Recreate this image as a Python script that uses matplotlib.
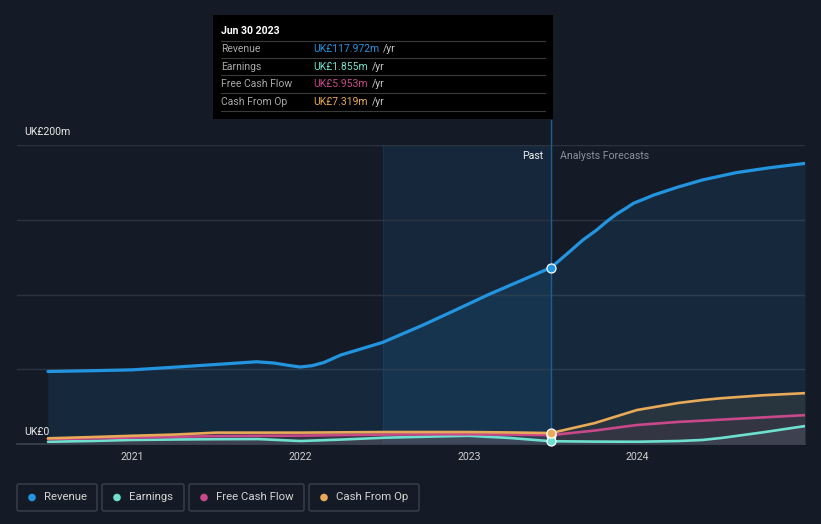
import matplotlib.pyplot as plt
from matplotlib.patches import Rectangle, FancyBboxPatch, Circle

plt.rcParams["font.family"] = ["Roboto", "DejaVu Sans"]

# data (UK£ m, decimal years)
rev_x = [2020.50, 2020.75, 2021.00, 2021.24, 2021.54, 2021.74, 2021.84, 2021.93, 2022.00,
         2022.07, 2022.14, 2022.24, 2022.49, 2022.73, 2022.93, 2023.12, 2023.32, 2023.49,
         2023.60, 2023.68, 2023.76, 2023.82, 2023.88, 2023.94, 2023.98, 2024.04, 2024.10,
         2024.24, 2024.39, 2024.59, 2024.79, 2025.00]
rev_y = [48.5, 49.0, 49.6, 51.3, 53.5, 55.0, 54.2, 52.6, 51.5,
         52.4, 54.5, 59.5, 68.0, 79.6, 90.0, 100.0, 109.7, 117.972,
         128.6, 136.5, 143.0, 148.7, 153.8, 158.0, 161.0, 163.7, 166.5,
         171.7, 176.6, 181.5, 184.8, 187.7]

q_x = [2020.50, 2020.75, 2021.00, 2021.25, 2021.50, 2021.75, 2022.00, 2022.25, 2022.50,
       2022.75, 2023.00, 2023.25, 2023.49, 2023.75, 2024.00, 2024.25, 2024.39, 2024.50,
       2024.75, 2025.00]
earn_y = [1.5, 2.0, 2.7, 3.0, 3.2, 3.3, 2.0, 3.0, 4.2,
          4.9, 5.5, 4.0, 1.855, 1.6, 1.5, 2.0, 2.7, 4.0,
          7.8, 12.0]
fcf_y = [3.3, 3.8, 4.3, 4.8, 5.3, 5.5, 5.6, 6.0, 6.3,
         6.5, 6.5, 6.3, 5.953, 9.0, 12.7, 14.8, 15.6, 16.3,
         17.8, 19.3]
cfo_y = [3.8, 4.6, 5.5, 6.3, 7.6, 7.6, 7.6, 7.8, 8.0,
         8.0, 8.0, 7.7, 7.319, 14.0, 22.7, 27.5, 29.4, 30.6,
         32.6, 34.0]

years = [2021, 2022, 2023, 2024]
now = 2023.49
band_start = 2022.49

series = [
    ("Revenue", "#2394df", "UK£117.972m"),
    ("Earnings", "#6ee0cf", "UK£1.855m"),
    ("Free Cash Flow", "#c8488a", "UK£5.953m"),
    ("Cash From Op", "#e8aa58", "UK£7.319m"),
]

bg = "#151b26"
W, H = 821, 524
fig = plt.figure(figsize=(W / 100, H / 100), dpi=100)
fig.patch.set_facecolor(bg)

# main axes: x pixel 17..805, y pixel 145..444
ax = fig.add_axes([17 / W, (H - 444) / H, (805 - 17) / W, (444 - 145) / H])
ax.set_facecolor(bg)
ax.set_xlim(2020.316, 2025.0)
ax.set_ylim(0, 200)
for s in ax.spines.values():
    s.set_visible(False)
ax.set_xticks([])
ax.set_yticks([])

for g in [50, 100, 150, 200]:
    ax.axhline(g, color="#2b3340", lw=1, zorder=1)
ax.axhline(0, color="#3c4451", lw=1.2, zorder=6, clip_on=False)

# highlight band for last year of past
ax.axvspan(band_start, now, color="#1c6cb5", alpha=0.15, lw=0, zorder=0)
ax.axvline(band_start, color="#1f4a6e", lw=0.7, alpha=0.35, zorder=1)

# fills
ax.fill_between(rev_x, rev_y, 0, color="#2394df", alpha=0.12, lw=0, zorder=2)
ax.fill_between(q_x, cfo_y, 0, color="#e8aa58", alpha=0.09, lw=0, zorder=2)
ax.fill_between(q_x, fcf_y, 0, color="#c8488a", alpha=0.08, lw=0, zorder=2)
ax.fill_between(q_x, earn_y, 0, color="#9ab0c0", alpha=0.10, lw=0, zorder=2)

# vertical marker line at the tooltip date
ax.plot([now, now], [0, 216.7], color="#1f5e92", lw=1, clip_on=False, zorder=3)

kw = dict(solid_capstyle="round", solid_joinstyle="round")
ax.plot(q_x, earn_y, color="#6ee0cf", lw=1.9, zorder=4, **kw)
ax.plot(q_x, fcf_y, color="#c8488a", lw=1.9, zorder=4, **kw)
ax.plot(q_x, cfo_y, color="#e8aa58", lw=1.9, zorder=4, **kw)
ax.plot(rev_x, rev_y, color="#2394df", lw=2.3, zorder=5, **kw)

for val, col in [(5.953, "#c8488a"), (1.855, "#6ee0cf"), (7.319, "#e8aa58"), (117.972, "#2394df")]:
    ax.plot([now], [val], "o", ms=6.5, mfc=col, mec="white", mew=0.9, zorder=7, clip_on=False)

# overlay in pixel coordinates
ov = fig.add_axes([0, 0, 1, 1])
ov.set_xlim(0, W)
ov.set_ylim(H, 0)
ov.axis("off")
ov.patch.set_alpha(0)

ov.text(24, 132, "UK£200m", color="#e8e8e8", fontsize=7.6, va="center", ha="left")
ov.text(24, 432, "UK£0", color="#e8e8e8", fontsize=7.6, va="center", ha="left")

for yr in years:
    px = 132 + (yr - 2021) * 168.5
    ov.text(px, 457, str(yr), color="#d0d0d0", fontsize=7.6, ha="center", va="center")

ov.text(543, 156, "Past", color="#f0f0f0", fontsize=7.6, ha="right", va="center")
ov.text(560, 156, "Analysts Forecasts", color="#8c929c", fontsize=7.6, ha="left", va="center")

# tooltip
ov.add_patch(Rectangle((213, 15), 340, 104, facecolor="#000000", edgecolor="none", zorder=10))
ov.text(221, 31, "Jun 30 2023", color="white", fontsize=7.6, fontweight="bold",
        va="center", ha="left", zorder=11)
for yl in [41, 58, 75, 93, 111]:
    ov.plot([221, 545], [yl, yl], color="#3a3a3a", lw=0.8, zorder=11)
renderer = fig.canvas.get_renderer()
for i, (name, col, val) in enumerate(series):
    yy = 49.5 + i * 17.4
    ov.text(221, yy, name, color="#a8a8a8", fontsize=7.5, va="center", ha="left", zorder=11)
    t = ov.text(313, yy, val, color=col, fontsize=7.5, va="center", ha="left", zorder=11)
    bb = t.get_window_extent(renderer)
    ov.text(bb.x1 + 4, yy, "/yr", color="#c8c8c8", fontsize=7.5, va="center", ha="left", zorder=11)

# legend boxes
boxes = [(17, 97), (102, 184), (189, 304), (309, 419)]
for (x0, x1), (name, col, _) in zip(boxes, series):
    ov.add_patch(FancyBboxPatch((x0, 484), x1 - x0, 27,
                                boxstyle="round,pad=0,rounding_size=2",
                                facecolor="none", edgecolor="#3b424e", lw=1))
    ov.add_patch(Circle((x0 + 15, 497.5), 3.8, color=col, lw=0))
    ov.text(x0 + 27, 497.5, name, color="#d4d4d4", fontsize=8.2, va="center", ha="left")

fig.savefig("out.png", dpi=100, facecolor=bg)
